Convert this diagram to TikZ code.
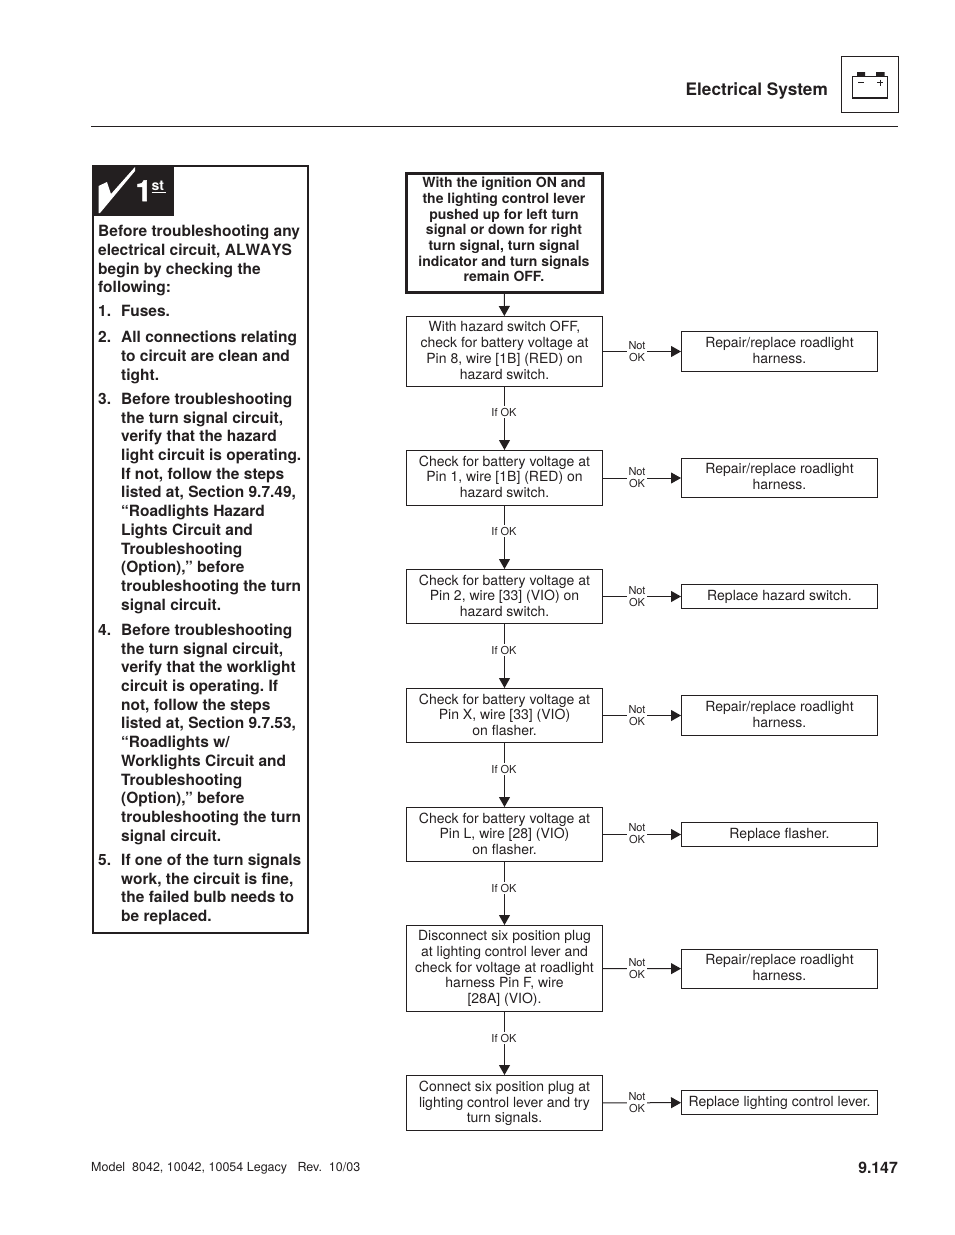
\documentclass[tikz,border=0pt]{standalone}
\usepackage{fontspec}
\setmainfont{TeX Gyre Heros}
\newfontfamily\heavyfont[BoldFeatures={FakeBold=2}]{TeX Gyre Heros}
\usetikzlibrary{arrows.meta}
\definecolor{ink}{HTML}{231F20}
\tikzset{
 x=1pt,y=-1pt,
 flowbox/.style={draw=ink,line width=1pt,minimum width=196pt,inner sep=0pt,align=center,font=\fontsize{14}{15.7}\selectfont\frenchspacing,text=ink},
 topbox/.style={flowbox,line width=3pt,minimum width=196pt,font=\fontsize{14}{15.7}\selectfont\bfseries\frenchspacing},
 lift/.style={text depth=#1pt},
 flowarrow/.style={draw=ink,line width=1pt,-{Triangle[length=10pt,width=11pt]}},
 small/.style={fill=white,inner sep=1.5pt,align=center,text=ink,font=\fontsize{11}{12}\selectfont},
 lefttext/.style={anchor=north west,inner sep=0pt,align=left,text=ink,font=\fontsize{15.5}{18.72}\selectfont\bfseries\frenchspacing},
}
\begin{document}
\begin{tikzpicture}
\useasboundingbox (0,0) rectangle (954,1235);
% page furniture
\node[anchor=base east,inner sep=0pt,text=ink,font=\fontsize{17.2}{20}\selectfont\bfseries] (title) at (828,95) {Electrical System};
\draw[ink,line width=1pt] (841.5,56.5) rectangle (898.5,112.5);
\draw[ink,line width=1pt] (852.5,97.5) -- (852.5,76.5) -- (887.5,76.5) -- (887.5,97.5);
\draw[ink,line width=2pt] (852,97.5) -- (888,97.5);
\fill[ink] (857,72) rectangle (865,76.5) (876,72) rectangle (884.5,76.5);
\draw[ink,line width=1pt] (858,82.5) -- (864,82.5) (877,82.5) -- (883,82.5) (880,79.5) -- (880,85.5);
\draw[ink,line width=1pt] (91,126.5) -- (898,126.5);
\node[anchor=base west,inner sep=0pt,text=ink,font=\fontsize{12.5}{14}\selectfont] (foot) at (91,1171) {Model\ \ 8042, 10042, 10054 Legacy\ \ \ Rev.\ \ 10/03};
\node[anchor=base east,inner sep=0pt,text=ink,font=\fontsize{15.8}{18}\selectfont\bfseries] (page) at (898,1173.5) {9.147};
% left panel
\draw[ink,line width=2pt] (93,165.5) rectangle (308,933);
\fill[ink] (94,166) rectangle (174,216);
\fill[white] (98.5,186) -- (107,182) -- (111,194) -- (135,167) -- (135,171) -- (100,213) -- (98.5,213) -- cycle;
\node[anchor=base west,inner sep=0pt,text=white,font=\fontsize{29}{30}\heavyfont\bfseries] (one) at (135.5,201) {1};
\node[anchor=base west,inner sep=0pt,text=white,font=\fontsize{14}{15}\selectfont\bfseries] (st) at (151.5,190) {st};
\draw[white,line width=1pt] (151.5,192.5) -- (166,192.5);
\node[lefttext] (intro) at (98,223.5) {\strut Before troubleshooting any\\electrical circuit, {\addfontfeature{Kerning=Off}ALWAYS}\\begin by checking the\\following:};
\node[lefttext] (n1) at (98,303.5) {\strut 1.};
\node[lefttext] (p1) at (121,303.5) {\strut Fuses.};
\node[lefttext] (n2) at (98,329.5) {\strut 2.};
\node[lefttext] (p2) at (121,329.5) {\strut All connections relating\\to circuit are clean and\\tight.};
\node[lefttext] (n3) at (98,391) {\strut 3.};
\node[lefttext] (p3) at (121,391) {\strut Before troubleshooting\\the turn signal circuit,\\verify that the hazard\\light circuit is operating.\\If not, follow the steps\\listed at, Section 9.7.49,\\“Roadlights Hazard\\Lights Circuit and\\Troubleshooting\\(Option),” before\\troubleshooting the turn\\signal circuit.};
\node[lefttext] (n4) at (98,622) {\strut 4.};
\node[lefttext] (p4) at (121,622) {\strut Before troubleshooting\\the turn signal circuit,\\verify that the worklight\\circuit is operating. If\\not, follow the steps\\listed at, Section 9.7.53,\\“Roadlights w/\\Worklights Circuit and\\Troubleshooting\\(Option),” before\\troubleshooting the turn\\signal circuit.};
\node[lefttext] (n5) at (98,852) {\strut 5.};
\node[lefttext] (p5) at (121,852) {\strut If one of the turn signals\\work, the circuit is fine,\\the failed bulb needs to\\be replaced.};
% flow boxes
\node[topbox,lift=6,minimum height=119pt] (b0) at (504,232.5) {With the ignition ON and\\the lighting control lever\\pushed up for left turn\\signal or down for right\\turn signal, turn signal\\indicator and turn signals\\remain OFF.};
\node[flowbox,lift=2.5,minimum height=70pt] (b1) at (504.5,351.5) {With hazard switch OFF,\\check for battery voltage at\\Pin 8, wire [1B] (RED) on\\hazard switch.};
\node[flowbox,lift=3,minimum height=55pt] (b2) at (504.5,478) {Check for battery voltage at\\Pin 1, wire [1B] (RED) on\\hazard switch.};
\node[flowbox,lift=2,minimum height=54pt] (b3) at (504.5,596.5) {Check for battery voltage at\\Pin 2, wire [33] (VIO) on\\hazard switch.};
\node[flowbox,lift=2,minimum height=54pt] (b4) at (504.5,715.5) {Check for battery voltage at\\Pin X, wire [33] (VIO)\\on flasher.};
\node[flowbox,lift=2,minimum height=54pt] (b5) at (504.5,834.5) {Check for battery voltage at\\Pin L, wire [28] (VIO)\\on flasher.};
\node[flowbox,minimum height=86pt] (b6) at (504.5,968.5) {Disconnect six position plug\\at lighting control lever and\\check for voltage at roadlight\\harness Pin F, wire\\{[28A]} (VIO).};
\node[flowbox,lift=2,minimum height=55pt] (b7) at (504.5,1103) {Connect six position plug at\\lighting control lever and try\\turn signals.};
\node[flowbox,lift=2,minimum height=40pt] (r1) at (779.5,351.5) {Repair/replace roadlight\\harness.};
\node[flowbox,lift=3,minimum height=39.5pt] (r2) at (779.5,478) {Repair/replace roadlight\\harness.};
\node[flowbox,minimum height=24.5pt] (r3) at (779.5,596.5) {Replace hazard switch.};
\node[flowbox,lift=2,minimum height=40pt] (r4) at (779.5,715.5) {Repair/replace roadlight\\harness.};
\node[flowbox,minimum height=24.5pt] (r5) at (779.5,834.5) {Replace flasher.};
\node[flowbox,lift=2,minimum height=39pt] (r6) at (779.5,968.7) {Repair/replace roadlight\\harness.};
\node[flowbox,minimum height=24pt] (r7) at (779.5,1102.5) {Replace lighting control lever.};
% connectors
\draw[flowarrow] (b0) -- (b1);
\foreach \a/\b in {b1/b2,b2/b3,b3/b4,b4/b5,b5/b6,b6/b7} \draw[flowarrow] (\a) -- (\b);
\foreach \a/\b in {b1/r1,b2/r2,b3/r3,b4/r4,b5/r5,b6/r6,b7/r7} \draw[flowarrow] (\a) -- (\b);
% labels
\foreach \n/\y in {a/412,b/531,c/650,d/769,e/888,f/1038}
  \node[small] (ok\n) at (504,\y) {If OK};
\foreach \n/\y in {a/351.5,b/477.5,c/596.5,d/715.5,e/834,f/968.5,g/1102.5}
  \node[small] (no\n) at (637,\y) {Not\\OK};
\end{tikzpicture}
\end{document}
